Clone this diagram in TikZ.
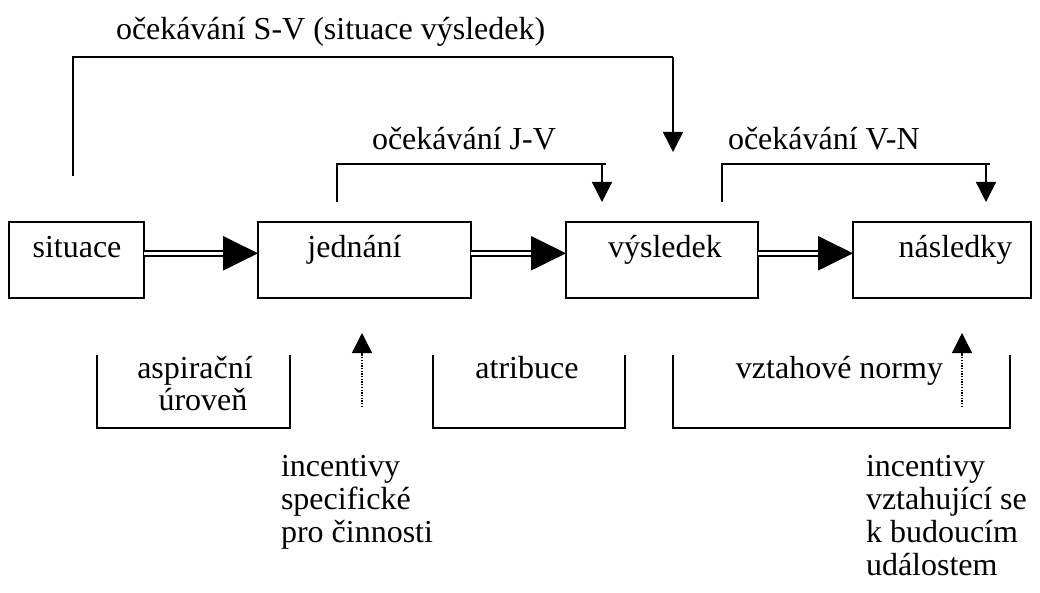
\documentclass[tikz,border=0pt]{standalone}
\usepackage{fontspec}
\setmainfont{Liberation Serif}
\usetikzlibrary{arrows.meta}
\begin{document}
\begin{tikzpicture}[x=1pt,y=-1pt,
  every node/.style={inner sep=0pt, outer sep=0pt, font=\fontsize{32pt}{38pt}\selectfont},
  box/.style={draw, line width=2.5pt, minimum height=76pt, minimum width=#1},
  txt/.style={anchor=base},
  txtl/.style={anchor=base west},
  dbl/.style={draw, line width=2pt, double=white, double distance=3.5pt},
  head/.style={fill=black},
  thickln/.style={line width=2.5pt},
  medln/.style={line width=2.2pt},
  arr/.style={line width=1.5pt, -{Triangle[length=20pt,width=20pt]}},
  dotarr/.style={line width=1.3pt, dash pattern=on 1.3pt off 1.4pt, -{Triangle[length=20pt,width=20pt]}},
  brk/.style={line width=1.3pt}
]
\useasboundingbox (0,0) rectangle (1040,593);

% boxes
\node[box=135pt] (s) at (76.5,260) {};
\node[box=213pt] (j) at (364.5,260) {};
\node[box=192pt] (v) at (662,260) {};
\node[box=178pt] (n) at (942,260) {};
\node[txt] (sT) at (77,258) {situace};
\node[txt] (jT) at (354.5,258) {jednání};
\node[txt] (vT) at (665,258) {výsledek};
\node[txt] (nT) at (955.5,258) {následky};

% double arrows
\foreach \a/\b in {s/j, j/v, v/n}{
  \draw[dbl] ([yshift=6.7pt]\a.east) -- ([xshift=-35pt,yshift=6.7pt]\b.west);
  \fill[head] ([yshift=6.7pt]\b.west) -- ++(-35,17.3) -- ++(0,-34.6) -- cycle;
}

% S-V expectation
\coordinate (svA) at (73,176);
\coordinate (svC) at (673,57);
\coordinate (svB) at (673,152);
\draw[thickln] (svA) |- (svC);
\draw[arr] (svC) -- (svB);
\node[txtl] (svT) at (116,40) {očekávání S-V (situace výsledek)};

% J-V expectation
\coordinate (jvA) at (337,202);
\coordinate (jvC) at (602,164);
\coordinate (jvB) at (602,202);
\draw[medln] (jvA) |- (606,164);
\draw[arr] (jvC) -- (jvB);
\node[txtl] (jvT) at (372,150) {očekávání J-V};

% V-N expectation
\coordinate (vnA) at (722,202);
\coordinate (vnC) at (986,164);
\coordinate (vnB) at (986,202);
\draw[medln] (vnA) |- (990,164);
\draw[arr] (vnC) -- (vnB);
\node[txtl] (vnT) at (728,150) {očekávání V-N};

% bottom brackets
\draw[brk] (97,355) |- (290,428) -- (290,355);
\draw[brk] (433,355) |- (625,428) -- (625,355);
\draw[brk] (673,355) |- (1010,428) -- (1010,355);
\node[txt] (aT1) at (195,378) {aspirační};
\node[txt] (aT2) at (203,410) {úroveň};
\node[txt] (atT) at (527,378) {atribuce};
\node[anchor=base east] (vzT) at (943,378) {vztahové normy};

% dotted arrows
\coordinate (d1a) at (362,407);
\coordinate (d1b) at (362,333);
\draw[dotarr] (d1a) -- (d1b);
\coordinate (d2a) at (962,407);
\coordinate (d2b) at (962,333);
\draw[dotarr] (d2a) -- (d2b);

% incentives texts
\node[txtl] (i1) at (281,476) {incentivy};
\node[txtl] (i2) at (281,509) {specifické};
\node[txtl] (i3) at (281,542) {pro činnosti};
\node[txtl] (k1) at (866,476) {incentivy};
\node[txtl] (k2) at (866,509) {vztahující se};
\node[txtl] (k3) at (866,542) {k budoucím};
\node[txtl] (k4) at (866,575) {událostem};
\end{tikzpicture}
\end{document}
